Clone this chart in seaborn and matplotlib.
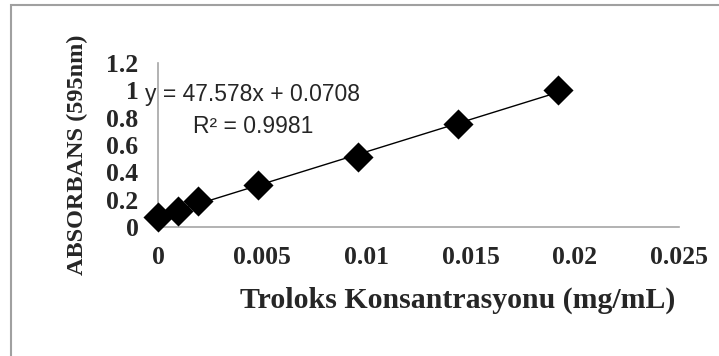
import matplotlib
matplotlib.use("Agg")
import matplotlib.pyplot as plt
import matplotlib.patches as mpatches
import seaborn as sns
import pandas as pd

# Data
concentration = [0, 0.00096, 0.00192, 0.0048, 0.0096, 0.0144, 0.0192]
absorbance = [0.073, 0.116, 0.19, 0.31, 0.51, 0.75, 1.0]
x_ticks = [0, 0.005, 0.01, 0.015, 0.02, 0.025]
x_tick_labels = ["0", "0.005", "0.01", "0.015", "0.02", "0.025"]
y_ticks = [0, 0.2, 0.4, 0.6, 0.8, 1.0, 1.2]
y_tick_labels = ["0", "0.2", "0.4", "0.6", "0.8", "1", "1.2"]
equation_text = "y = 47.578x + 0.0708"
r2_text = "R² = 0.9981"
x_label = "Troloks Konsantrasyonu (mg/mL)"
y_label = "ABSORBANS (595nm)"

df = pd.DataFrame({"x": concentration, "y": absorbance})

sns.set_style("white")
plt.rcParams["font.family"] = ["Liberation Serif", "DejaVu Serif"]

fig = plt.figure(figsize=(7.19, 3.56), dpi=100)
ax = fig.add_axes([158 / 719, 1 - 227 / 356, (679 - 158) / 719, (227 - 63) / 356])

sns.regplot(data=df, x="x", y="y", ax=ax, ci=None, marker="D", color="black",
            scatter_kws={"s": 235, "linewidths": 0, "zorder": 3, "alpha": 1},
            line_kws={"lw": 1.0, "color": "black", "zorder": 2})

ax.set_xlim(0, 0.025)
ax.set_ylim(0, 1.2)
ax.set_xticks(x_ticks)
ax.set_xticklabels(x_tick_labels)
ax.set_yticks(y_ticks)
ax.set_yticklabels(y_tick_labels)

for sp in ["top", "right"]:
    ax.spines[sp].set_visible(False)
for sp in ["left", "bottom"]:
    ax.spines[sp].set_color("#a6a6a6")
    ax.spines[sp].set_linewidth(1.2)
ax.tick_params(axis="both", which="major", direction="out", length=5, width=1.0,
               color="#a6a6a6", labelsize=18.5, pad=9)
for lab in ax.get_xticklabels() + ax.get_yticklabels():
    lab.set_fontweight("bold")
for coll in ax.collections:
    coll.set_clip_on(False)

ax.set_xlabel(x_label, fontsize=21.5, fontweight="bold")
ax.xaxis.set_label_coords(0.576, -0.45)
ax.xaxis.label.set_va("center")
ax.set_ylabel(y_label, fontsize=17.5, fontweight="bold")
ax.yaxis.set_label_coords(-0.1555, 0.439)
ax.yaxis.label.set_va("center")

ax.text(0.1823, 0.805, equation_text, transform=ax.transAxes, ha="center", va="center",
        fontsize=16.5, family=["Liberation Sans", "DejaVu Sans"])
ax.text(0.1823, 0.61, r2_text, transform=ax.transAxes, ha="center", va="center",
        fontsize=16.5, family=["Liberation Sans", "DejaVu Sans"])

border = mpatches.Rectangle((11 / 719, -0.1), 1.2, 1 - 5 / 356 + 0.1, transform=fig.transFigure,
                            fill=False, edgecolor="#a0a0a0", lw=1.5, clip_on=False)
fig.patches.append(border)

fig.savefig("out.png", dpi=100)
